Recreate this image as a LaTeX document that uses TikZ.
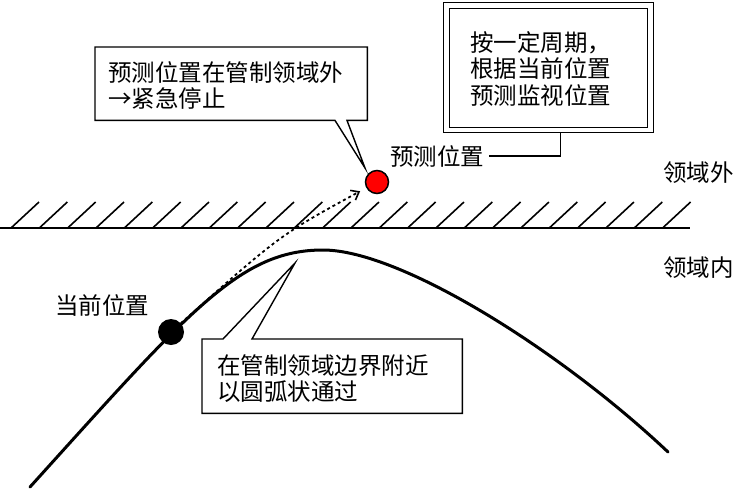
\documentclass[tikz,border=0pt]{standalone}
\usepackage{fontspec}
\newfontfamily\cjkfont{Noto Sans CJK SC}
\usetikzlibrary{arrows.meta,calc}
\begin{document}
\begin{tikzpicture}[x=1pt,y=-1pt,
  every node/.style={font=\cjkfont\fontsize{23.5}{26.5}\selectfont, inner sep=0pt},
  boxline/.style={line width=1.4pt},
  txt/.style={align=left, anchor=west},
  hatch/.style={line width=1.6pt},
  trail/.style={line width=3pt, line cap=round},
  dotarrow/.style={line width=1.8pt, dash pattern=on 3pt off 3pt, -{Straight Barb[length=7pt,width=11pt,line width=1.6pt]}, shorten >=7pt}
]
\useasboundingbox (0,0) rectangle (738,488);

% boundary with hatching
\draw[hatch] (0,228) -- (690,228);
\foreach \i in {0,...,23}
  \draw[hatch] ({11+28.33*\i},228) -- ++(28,-26);

% trajectory
\coordinate (peak) at (323,250);
\draw[trail] (30,487) .. controls (190,310) and (240,250) .. (peak)
  .. controls (400,250) and (560,350) .. (668,452);

% positions
\node[circle, fill=black, minimum size=26pt] (cur) at (171,332) {};
\node[circle, fill=red, draw=black, line width=1.5pt, minimum size=23pt] (pred) at (377,182) {};

\draw[dotarrow] (cur) .. controls (280,235) .. (pred);

% labels
\node[txt] (curlbl) at (55,305) {当前位置};
\node[txt] (predlbl) at (390,156) {预测位置};
\node[txt] (outside) at (663,173) {领域外};
\node[txt] (inside) at (663,268) {领域内};

% callout 1
\node[minimum width=272pt, minimum height=73pt, anchor=north west] (c1) at (95,47) {};
\node[txt] (c1t) at (108,85.5) {预测位置在管制领域外\\→紧急停止};
\coordinate (tip1) at (365,168);
\draw[boxline, line join=miter] (c1.north west) -- (c1.north east) -- (c1.south east)
  -- ($(c1.south west)+(252,0)$) -- (tip1) -- ($(c1.south west)+(240,0)$)
  -- (c1.south west) -- cycle;

% callout 2 (double box)
\node[draw, boxline, minimum width=210pt, minimum height=130pt, anchor=north west] (c2) at (443,2) {};
\node[draw, boxline, minimum width=198pt, minimum height=119pt] (c2in) at (c2.center) {};
\node[txt] (c2t) at (470,68.5) {按一定周期，\\根据当前位置\\预测监视位置};
\draw[line width=1.2pt] ([xshift=5pt]predlbl.east) -| ([xshift=12pt]c2.south);

% callout 3
\node[minimum width=260pt, minimum height=74pt, anchor=north west] (c3) at (202,339) {};
\node[txt] (c3t) at (217,378.5) {在管制领域边界附近\\以圆弧状通过};
\coordinate (tip3) at (295,263);
\draw[boxline, line join=miter] (c3.south west) -- (c3.north west)
  -- ($(c3.north west)+(21,0)$) -- (tip3) -- ($(c3.north west)+(50,0)$)
  -- (c3.north east) -- (c3.south east) -- cycle;
\end{tikzpicture}
\end{document}
